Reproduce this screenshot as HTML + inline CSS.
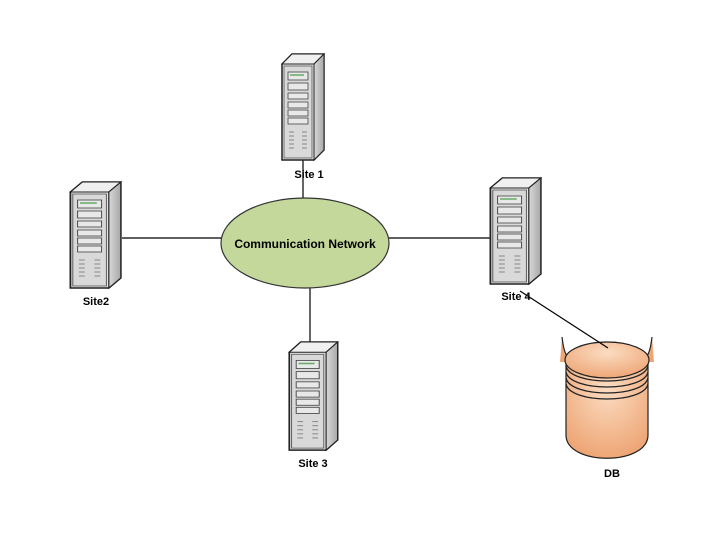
<!DOCTYPE html>
<html><head><style>body{margin:0;background:#fff}</style></head><body>
<svg width="720" height="540" xmlns="http://www.w3.org/2000/svg" font-family="Liberation Sans, sans-serif">
<defs>
<linearGradient id="side" x1="0" x2="1"><stop offset="0" stop-color="#d8d8d8"/><stop offset="1" stop-color="#a8a8a8"/></linearGradient>
<radialGradient id="db" cx="0.5" cy="0.3" r="0.7"><stop offset="0" stop-color="#fbdcc2"/><stop offset="1" stop-color="#eea676"/></radialGradient>
<g id="srv">
<path d="M2 12 L12 2 L44 2 L44 98 L34 108 L2 108 Z" fill="#e6e6e6" stroke="#222" stroke-width="1.5"/>
<path d="M2 12 L12 2 L44 2 L34 12 Z" fill="#f0f0f0" stroke="#222" stroke-width="1"/>
<path d="M34 12 L44 2 L44 98 L34 108 Z" fill="url(#side)" stroke="#222" stroke-width="1"/>
<rect x="4" y="14" width="28" height="92" fill="#d9d9d9" stroke="#555" stroke-width="0.8"/>
<rect x="8" y="20" width="20" height="8" fill="#e8e8e8" stroke="#444" stroke-width="0.8"/>
<rect x="8" y="31" width="20" height="7" fill="#e8e8e8" stroke="#444" stroke-width="0.8"/>
<rect x="8" y="41" width="20" height="6" fill="#e8e8e8" stroke="#444" stroke-width="0.8"/>
<rect x="8" y="50" width="20" height="6" fill="#e8e8e8" stroke="#444" stroke-width="0.8"/>
<rect x="8" y="58" width="20" height="6" fill="#e8e8e8" stroke="#444" stroke-width="0.8"/>
<rect x="8" y="66" width="20" height="6" fill="#e8e8e8" stroke="#444" stroke-width="0.8"/>
<line x1="10" y1="23" x2="24" y2="23" stroke="#6a6" stroke-width="1.5"/>
<g stroke="#888" stroke-width="1"><line x1="9" y1="80" x2="14" y2="80"/><line x1="9" y1="84" x2="14" y2="84"/><line x1="9" y1="88" x2="14" y2="88"/><line x1="9" y1="92" x2="14" y2="92"/><line x1="9" y1="96" x2="14" y2="96"/><line x1="22" y1="80" x2="27" y2="80"/><line x1="22" y1="84" x2="27" y2="84"/><line x1="22" y1="88" x2="27" y2="88"/><line x1="22" y1="92" x2="27" y2="92"/><line x1="22" y1="96" x2="27" y2="96"/></g>
</g>
</defs>
<g stroke="#000" stroke-width="1.2">
<line x1="303" y1="158" x2="303" y2="199"/>
<line x1="122" y1="238" x2="222" y2="238"/>
<line x1="388" y1="238" x2="490" y2="238"/>
<line x1="310" y1="287" x2="310" y2="342"/>
</g>
<use href="#srv" transform="translate(280,52)"/>
<use href="#srv" transform="translate(68,180) scale(1.2,1)"/>
<use href="#srv" transform="translate(287,340) scale(1.15,1.02)"/>
<use href="#srv" transform="translate(488,176) scale(1.2,1)"/>
<ellipse cx="305" cy="243" rx="84" ry="45" fill="#c5d89b" stroke="#333" stroke-width="1.2"/>
<text x="305" y="248" font-size="12" font-weight="bold" text-anchor="middle">Communication Network</text>
<text x="309" y="178" font-size="11" font-weight="bold" text-anchor="middle">Site 1</text>
<text x="96" y="305" font-size="11" font-weight="bold" text-anchor="middle">Site2</text>
<text x="313" y="467" font-size="11" font-weight="bold" text-anchor="middle">Site 3</text>
<text x="516" y="300" font-size="11" font-weight="bold" text-anchor="middle">Site 4</text>
<path d="M562 337 C563 345 564 352 567 358 L570 362 L560 362 Z" fill="#eea676" stroke="none"/>
<path d="M652 337 C651 345 650 352 647 358 L644 362 L654 362 Z" fill="#eea676" stroke="none"/>
<path d="M562 337 C563 345 564 352 568 358" fill="none" stroke="#222" stroke-width="1.2"/>
<path d="M652 337 C651 345 650 352 646 358" fill="none" stroke="#222" stroke-width="1.2"/>
<path d="M566 360 L566 435 C566 466 648 466 648 435 L648 360 Z" fill="url(#db)" stroke="#222" stroke-width="1.2"/>
<ellipse cx="607" cy="360" rx="42" ry="18" fill="url(#db)" stroke="#222" stroke-width="1.2"/>
<g fill="none" stroke="#222" stroke-width="1.3">
<path d="M566 366 C570 386 644 386 648 366"/>
<path d="M566 372 C570 392 644 392 648 372"/>
<path d="M566 378 C570 398 644 398 648 378"/>
<path d="M566 384 C570 404 644 404 648 384"/>
</g>
<line x1="520" y1="291" x2="608" y2="348" stroke="#000" stroke-width="1.2"/>
<text x="612" y="477" font-size="11" font-weight="bold" text-anchor="middle">DB</text>
</svg>
</body></html>
